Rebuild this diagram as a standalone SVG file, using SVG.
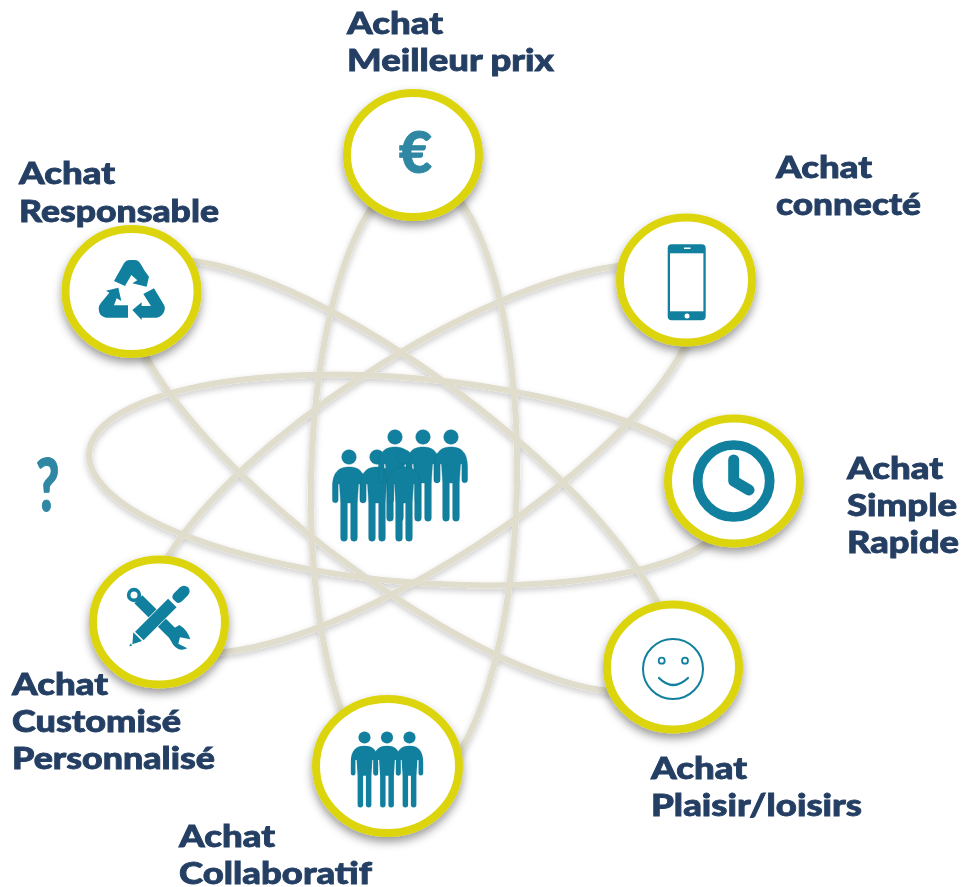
<svg xmlns="http://www.w3.org/2000/svg" width="963" height="887" viewBox="0 0 963 887">
<style>
.lb{font-family:"Lato","Liberation Sans",sans-serif;font-weight:900;font-size:30px;fill:#243f63;stroke:#243f63;stroke-width:.8}
.orb{fill:none;stroke:#e0ddcc;stroke-width:6}
.ring{fill:#fff;stroke:#dcd50f;stroke-width:8}
.ic{fill:#11809e}
.gl{font-family:"Lato","Liberation Sans",sans-serif;font-weight:900;fill:#2f87a3;stroke:#2f87a3;stroke-width:1}
</style>
<defs>
<filter id="sh" x="-20%" y="-20%" width="140%" height="140%"><feDropShadow dx="0" dy="5" stdDeviation="5" flood-color="#000" flood-opacity="0.4"/></filter>
<filter id="ls" x="-10%" y="-10%" width="120%" height="120%"><feDropShadow dx="0" dy="3" stdDeviation="3" flood-color="#000" flood-opacity="0.22"/></filter>
<g id="person">
<circle cx="0" cy="0" r="7.3"/>
<path d="M0 10C-10 10-16.500 15-16.500 30L-16.500 43A2.800 2.800 0 0 0-10.900 43L-10.900 27L-9.500 27L-8.300 46L-8.300 81A3.300 3.300 0 0 0-1.700 81L-1.700 46L1.700 46L1.700 81A3.300 3.300 0 0 0 8.300 81L8.300 46L9.500 27L10.900 27L10.900 43A2.800 2.800 0 0 0 16.500 43L16.500 30C16.500 15 10 10 0 10Z"/>
</g>
</defs>
<g id="connectors" filter="url(#ls)">
<ellipse class="orb" cx="414" cy="482" rx="103" ry="308" transform="rotate(1 414 482)"/>
<ellipse class="orb" cx="410" cy="480" rx="322" ry="102" transform="rotate(5 410 480)"/>
<ellipse class="orb" cx="400" cy="476" rx="332" ry="102" transform="rotate(37 400 476)"/>
<ellipse class="orb" cx="422" cy="459" rx="320" ry="102" transform="rotate(-33 422 459)"/>
</g>
<g id="node-meilleur-prix">
<ellipse class="ring" cx="413" cy="155" rx="66" ry="62" filter="url(#sh)"/>
<text class="gl" x="415.500" y="173" font-size="57" text-anchor="middle">€</text>
<text class="lb" x="347" y="34" textLength="96" lengthAdjust="spacingAndGlyphs">Achat</text>
<text class="lb" x="347" y="71" textLength="207" lengthAdjust="spacingAndGlyphs">Meilleur prix</text>
</g>
<g id="node-connecte">
<ellipse class="ring" cx="686" cy="280" rx="66" ry="62.500" filter="url(#sh)"/>
<rect class="ic" x="667.700" y="244.300" width="38" height="76" rx="4"/>
<rect x="670" y="253.300" width="33.400" height="58" fill="#fff"/>
<circle cx="687" cy="316" r="2.500" fill="#fff"/>
<rect x="684" y="247.500" width="6.500" height="1.500" fill="#fff"/>
<text class="lb" x="776" y="178" textLength="96" lengthAdjust="spacingAndGlyphs">Achat</text>
<text class="lb" x="776" y="215" textLength="145" lengthAdjust="spacingAndGlyphs">connecté</text>
</g>
<g id="node-simple-rapide">
<ellipse class="ring" cx="734" cy="481" rx="66" ry="62.500" filter="url(#sh)"/>
<circle cx="733.700" cy="481" r="36" fill="none" stroke="#11809e" stroke-width="9.700"/>
<path d="M733.700 460L733.700 481L749 490" fill="none" stroke="#11809e" stroke-width="11" stroke-linecap="round" stroke-linejoin="round"/>
<text class="lb" x="847" y="479" textLength="96" lengthAdjust="spacingAndGlyphs">Achat</text>
<text class="lb" x="847" y="516" textLength="110" lengthAdjust="spacingAndGlyphs">Simple</text>
<text class="lb" x="847" y="553" textLength="112" lengthAdjust="spacingAndGlyphs">Rapide</text>
</g>
<g id="node-plaisir">
<ellipse class="ring" cx="673" cy="667" rx="66" ry="62.500" filter="url(#sh)"/>
<g fill="none" stroke="#11809e">
<circle cx="673" cy="669" r="30" stroke-width="2"/>
<circle cx="661.700" cy="660.700" r="3" stroke-width="1.800"/>
<circle cx="685" cy="660.700" r="3" stroke-width="1.800"/>
<path d="M659 678Q673 692 688 678" stroke-width="2.200" stroke-linecap="round"/>
</g>
<text class="lb" x="651" y="779" textLength="96" lengthAdjust="spacingAndGlyphs">Achat</text>
<text class="lb" x="651" y="816" textLength="211" lengthAdjust="spacingAndGlyphs">Plaisir/loisirs</text>
</g>
<g id="node-collaboratif">
<ellipse class="ring" cx="387.500" cy="766" rx="71.500" ry="67" filter="url(#sh)"/>
<g class="ic">
<use href="#person" transform="translate(364.500 737.500) scale(.83)"/>
<use href="#person" transform="translate(387 737.500) scale(.83)"/>
<use href="#person" transform="translate(409.500 737.500) scale(.83)"/>
</g>
<text class="lb" x="179" y="847" textLength="96" lengthAdjust="spacingAndGlyphs">Achat</text>
<text class="lb" x="179" y="884" textLength="193" lengthAdjust="spacingAndGlyphs">Collaboratif</text>
</g>
<g id="node-customise">
<ellipse class="ring" cx="159" cy="622" rx="66" ry="62.500" filter="url(#sh)"/>
<g transform="translate(80 545) scale(.3333)">
<path d="M175 163L285 272" stroke="#11809e" stroke-width="34" fill="none"/>
<circle cx="162" cy="150" r="16" fill="none" stroke="#11809e" stroke-width="11"/>
<path d="M262 262L298 240Q322 254 331 283L300 277L295 296L322 310Q298 322 280 300Q268 284 262 262Z" class="ic"/>
<path d="M294 157L312 139" stroke="#11809e" stroke-width="34" stroke-linecap="round" fill="none"/>
<path d="M284 167L180 271" stroke="#fff" stroke-width="40" fill="none"/>
<path d="M277 174L178 273" stroke="#11809e" stroke-width="36" fill="none"/>
<path d="M160 262L186 288L157 298Z" class="ic"/>
<path d="M153 295L147 304L156 302Z" class="ic"/>
</g>
<text class="lb" x="12" y="695" textLength="96" lengthAdjust="spacingAndGlyphs">Achat</text>
<text class="lb" x="12" y="732" textLength="169" lengthAdjust="spacingAndGlyphs">Customisé</text>
<text class="lb" x="12" y="769" textLength="203" lengthAdjust="spacingAndGlyphs">Personnalisé</text>
</g>
<g id="node-inconnu">
<text class="gl" transform="translate(47.500 511) scale(.7 1)" font-size="73" text-anchor="middle">?</text>
</g>
<g id="node-responsable">
<ellipse class="ring" cx="131.500" cy="291.500" rx="66" ry="62.500" filter="url(#sh)"/>
<g class="ic" transform="translate(50 220) scale(.3333)">
<path d="M192 183L222 130Q228 120 240 120L255 120Q265 120 272 132L284 152L297 170L290 200L247 190L262 181L244 165L225 198Z"/>
<path d="M168 212L205 203L214 243L200 235L192 256L234 256L234 293L168 293Q146 290 146 265Q146 258 152 250L178 218Z"/>
<path d="M280 222L312 205L342 255Q348 265 340 280Q330 293 320 293L275 293L275 300L247 270L275 247L275 258L303 258Z"/>
</g>
<text class="lb" x="19" y="184" textLength="96" lengthAdjust="spacingAndGlyphs">Achat</text>
<text class="lb" x="19" y="222" textLength="200" lengthAdjust="spacingAndGlyphs">Responsable</text>
</g>
<g id="node-centre" class="ic" stroke="#0e6f8c" stroke-width=".4">
<use href="#person" transform="translate(349 457)"/>
<use href="#person" transform="translate(377 457)"/>
<use href="#person" transform="translate(395 437)"/>
<use href="#person" transform="translate(423 437)"/>
<use href="#person" transform="translate(451 437)"/>
<use href="#person" transform="translate(404 457)"/>
</g>
</svg>
